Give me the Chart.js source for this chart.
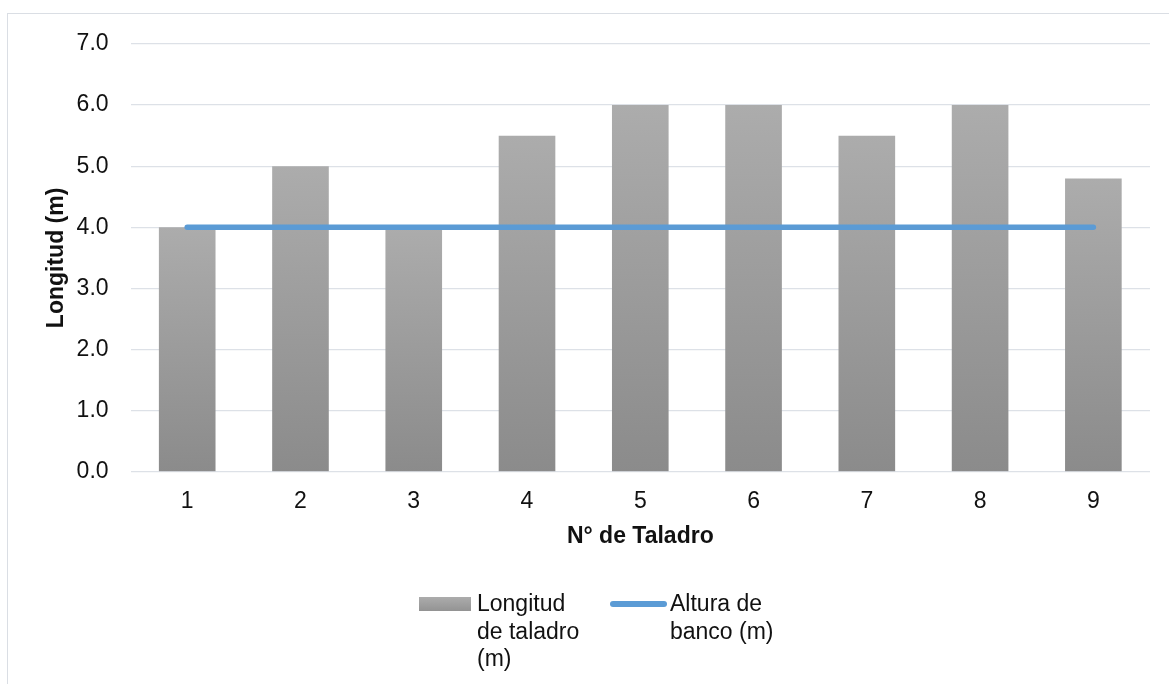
<!DOCTYPE html>
<html>
<head>
<meta charset="utf-8">
<script src="https://cdn.jsdelivr.net/npm/chart.js@4.4.1/dist/chart.umd.min.js"></script>
<style>
    html, body { margin: 0; padding: 0; background: #fff; overflow: hidden; }
    body { width: 1169px; height: 684px; position: relative; font-family: "Liberation Sans", Arial, sans-serif; }
    #frame { position: absolute; left: 7px; top: 13px; width: 1200px; height: 720px; border: 1.5px solid #dadee4; }
    #wrap { position: absolute; left: 0; top: 0; width: 1169px; height: 684px; }
    .leg-text { position: absolute; font-size: 23px; line-height: 27.6px; color: #111; white-space: nowrap; }
    .leg-box { position: absolute; }
</style>
</head>
<body>
<div id="frame"></div>
<div id="wrap"><canvas id="taladroChart"></canvas></div>
<div id="legend"></div>
<script>
const categories = ['1', '2', '3', '4', '5', '6', '7', '8', '9'];
const longitudTaladro = [4.0, 5.0, 4.0, 5.5, 6.0, 6.0, 5.5, 6.0, 4.8];
const alturaBanco = [4.0, 4.0, 4.0, 4.0, 4.0, 4.0, 4.0, 4.0, 4.0];
const yTicks = [0, 1, 2, 3, 4, 5, 6, 7];

const fontFamily = '"Liberation Sans", Arial, sans-serif';

// each bar gets its own light-to-dark gradient, like the Excel fill
function barFill(context) {
    const chart = context.chart;
    if (!chart.chartArea || context.raw === undefined) return '#9e9e9e';
    const y = chart.scales.y;
    const top = y.getPixelForValue(context.raw);
    const bottom = y.getPixelForValue(0);
    const g = chart.ctx.createLinearGradient(0, top, 0, bottom);
    g.addColorStop(0, '#acacac');
    g.addColorStop(1, '#8b8b8b');
    return g;
}

const ctx = document.getElementById('taladroChart').getContext('2d');

const chart = new Chart(ctx, {
    data: {
        labels: categories,
        datasets: [
            {
                type: 'line',
                label: ['Altura de', 'banco (m)'],
                data: alturaBanco,
                borderColor: '#5b9bd5',
                backgroundColor: '#5b9bd5',
                borderWidth: 5.5,
                borderCapStyle: 'round',
                pointRadius: 0,
                pointHoverRadius: 0,
                tension: 0,
                order: 0
            },
            {
                type: 'bar',
                label: ['Longitud', 'de taladro', '(m)'],
                data: longitudTaladro,
                backgroundColor: barFill,
                borderWidth: 0,
                barPercentage: 1,
                categoryPercentage: 0.5,
                order: 1
            }
        ]
    },
    options: {
        responsive: true,
        maintainAspectRatio: false,
        animation: false,
        layout: {
            padding: { left: 43, right: 19, top: 44, bottom: 134 }
        },
        plugins: {
            legend: { display: false },
            tooltip: { enabled: false }
        },
        scales: {
            x: {
                grid: { display: false, drawTicks: false },
                border: { display: false },
                ticks: {
                    color: '#111',
                    padding: 16,
                    font: { family: fontFamily, size: 23 }
                },
                title: {
                    display: true,
                    text: 'N° de Taladro',
                    color: '#111',
                    padding: { top: -9, bottom: 0 },
                    font: { family: fontFamily, size: 23, weight: 'bold' }
                }
            },
            y: {
                min: 0,
                max: 7,
                afterBuildTicks: function (axis) {
                    axis.ticks = yTicks.map(v => ({ value: v }));
                },
                grid: { color: '#dde1e7', lineWidth: 1.3, drawTicks: false },
                border: { display: false },
                ticks: {
                    color: '#111',
                    padding: 22,
                    font: { family: fontFamily, size: 23 },
                    callback: function (value) { return Number(value).toFixed(1); }
                },
                title: {
                    display: true,
                    text: 'Longitud (m)',
                    color: '#111',
                    padding: { top: 0, bottom: -16 },
                    font: { family: fontFamily, size: 23, weight: 'bold' }
                }
            }
        }
    }
});

// html legend built from the chart's datasets, bar first as in the original
const legendEl = document.getElementById('legend');
const barSet = chart.data.datasets[1];
const lineSet = chart.data.datasets[0];

const box = document.createElement('div');
box.className = 'leg-box';
box.style.cssText = 'left:419px;top:597px;width:52px;height:14px;background:linear-gradient(#acacac,#939393);';
legendEl.appendChild(box);

const t1 = document.createElement('div');
t1.className = 'leg-text';
t1.style.cssText = 'left:477px;top:590px;';
t1.innerHTML = barSet.label.join('<br>');
legendEl.appendChild(t1);

const ln = document.createElement('div');
ln.className = 'leg-box';
ln.style.cssText = 'left:610px;top:601px;width:57px;height:6px;border-radius:3px;background:' + lineSet.borderColor + ';';
legendEl.appendChild(ln);

const t2 = document.createElement('div');
t2.className = 'leg-text';
t2.style.cssText = 'left:670px;top:590px;';
t2.innerHTML = lineSet.label.join('<br>');
legendEl.appendChild(t2);
</script>
</body>
</html>
